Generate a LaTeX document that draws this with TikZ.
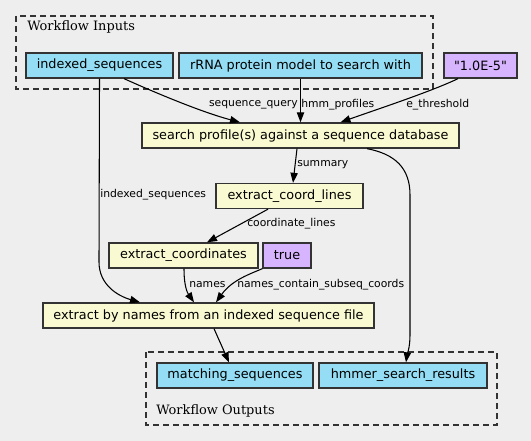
\documentclass[tikz,border=0pt]{standalone}
\usepackage{fontspec}
\setsansfont{DejaVu Sans}[Ligatures=TeXOff]
\newfontfamily\clusterfont{DejaVu Serif}
\usetikzlibrary{positioning, calc, arrows.meta}

\definecolor{bgcol}{HTML}{EEEEEE}
\definecolor{iocol}{HTML}{94DDF4}
\definecolor{stepcol}{HTML}{FAFAD2}
\definecolor{valcol}{HTML}{D7B4FE}
\definecolor{edgecol}{HTML}{333333}

\tikzset{
  box/.style={draw=edgecol, line width=1pt, rectangle, minimum height=18.75pt, inner sep=0pt,
    font=\sffamily\fontsize{9.6}{11}\selectfont},
  iobox/.style={box, fill=iocol},
  stepbox/.style={box, fill=stepcol},
  valbox/.style={box, fill=valcol},
  cluster/.style={draw=edgecol, dash pattern=on 4.5pt off 3pt, line width=0.9pt},
  lbl/.style={font=\sffamily\fontsize{8.1}{9}\selectfont, inner sep=0pt},
  cltitle/.style={font=\clusterfont\fontsize{9.7}{11}\selectfont, inner sep=0pt, anchor=west},
  flow/.style={->, line width=0.8pt},
  >={Triangle[length=7.5pt, width=5.5pt]}
}

\begin{document}
\begin{tikzpicture}[x=0.75pt, y=-0.75pt]
  \fill[bgcol] (0,0) rectangle (531,441);
  \useasboundingbox (0,0) rectangle (531,441);

  % clusters
  \draw[cluster] (16,16) rectangle (433,89);
  \node[cltitle] (intitle) at (27,27) {Workflow Inputs};
  \draw[cluster] (146,352) rectangle (497,425);
  \node[cltitle] (outtitle) at (156,411) {Workflow Outputs};

  % inputs
  \node[iobox, minimum width=110.25pt] (inseq) at (99.5,65.5) {indexed\_sequences};
  \node[iobox, minimum width=182.25pt] (rrna) at (300.5,65.5) {rRNA protein model to search with};
  \node[valbox, minimum width=54.75pt] (thr) at (480.5,65.5) {"1.0E-5"};

  % steps
  \node[stepbox, minimum width=237.75pt] (search) at (300.5,135.5) {search profile(s) against a sequence database};
  \node[stepbox, minimum width=110.25pt] (coordlines) at (289.5,196) {extract\_coord\_lines};
  \node[stepbox, minimum width=111.75pt] (coords) at (183.5,255.5) {extract\_coordinates};
  \node[valbox, minimum width=36pt] (true) at (287,255.5) {true};
  \node[stepbox, minimum width=248.25pt] (extract) at (208.5,315.5) {extract by names from an indexed sequence file};

  % outputs
  \node[iobox, minimum width=117pt] (matchseq) at (235,375.5) {matching\_sequences};
  \node[iobox, minimum width=126pt] (hmmer) at (403,375.5) {hmmer\_search\_results};

  % connectors
  \draw[flow] ($(inseq.south)+(24.5,0)$) .. controls (165,97) and (205,113) .. ($(search.north)+(-60.5,0)$);
  \draw[flow] (rrna.south) -- (search.north);
  \draw[flow] ($(thr.south)+(-22.5,0)$) .. controls (430,92) and (375,110) .. ($(search.north)+(40,0)$);
  \draw[flow] ($(search.south)+(-3.5,0)$) -- ($(coordlines.north)+(3.5,0)$);
  \draw[flow] ($(search.south)+(66.5,0)$) .. controls (395,154) and (410,168) .. (410,195)
    -- (410,335) .. controls (410,348) and (407,355) .. ($(hmmer.north)+(3,0)$);
  \draw[flow] (inseq.south) -- (99,262) .. controls (99,285) and (118,296) .. ($(extract.north)+(-68.5,0)$);
  \draw[flow] ($(coordlines.south)+(-21.5,0)$) -- ($(coords.north)+(23.5,0)$);
  \draw[flow] ($(coords.south)+(0.5,0)$) .. controls (184,290) and (189,295) .. ($(extract.north)+(-14.5,0)$);
  \draw[flow] (true.south west) .. controls (250,274) and (232,280) .. ($(extract.north)+(7.5,0)$);
  \draw[flow] ($(extract.south)+(5.5,0)$) -- ($(matchseq.north)+(-6,0)$);

  % edge labels
  \node[lbl, anchor=east] (lseq) at (298,105) {sequence\_query};
  \node[lbl, anchor=west] (lhmm) at (301,105) {hmm\_profiles};
  \node[lbl, anchor=west] (lthr) at (406,105) {e\_threshold};
  \node[lbl, anchor=west] (lsum) at (297,165) {summary};
  \node[lbl, anchor=west] (linseq) at (100,195) {indexed\_sequences};
  \node[lbl, anchor=west] (lcl) at (247,224) {coordinate\_lines};
  \node[lbl, anchor=west] (lnames) at (189,285) {names};
  \node[lbl, anchor=west] (lsub) at (237,285) {names\_contain\_subseq\_coords};
\end{tikzpicture}
\end{document}
